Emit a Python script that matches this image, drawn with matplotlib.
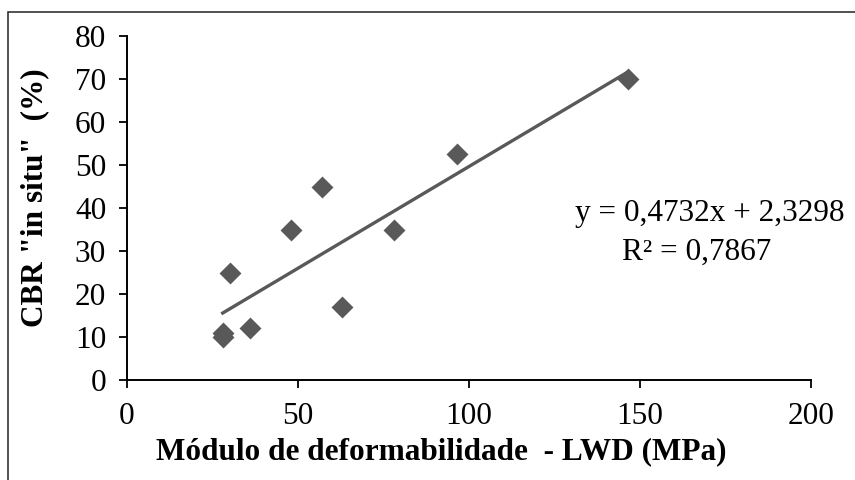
import matplotlib
matplotlib.use("Agg")
import matplotlib.pyplot as plt
from matplotlib.patches import Rectangle

# LWD modulus (MPa) vs in-situ CBR (%)
lwd_mpa = [146.5, 96.5, 57, 48, 78, 30, 36, 63, 28, 28]
cbr_pct = [70, 52.5, 45, 35, 35, 25, 12, 17, 11, 10]

# trendline coefficients as printed on the chart
slope = 0.4732
intercept = 2.3298
r2 = 0.7867

x_ticks = [0, 50, 100, 150, 200]
y_ticks = [0, 10, 20, 30, 40, 50, 60, 70, 80]

plt.rcParams["font.family"] = ["Liberation Serif", "DejaVu Serif"]

fig = plt.figure(figsize=(8.55, 4.8), dpi=100)
ax = fig.add_axes([0.1485, 0.2083, 0.80, 0.7167])

grey = "#595959"
ax.scatter(lwd_mpa, cbr_pct, marker="D", s=125, color=grey, zorder=3, linewidths=0)

x0, x1 = min(lwd_mpa), max(lwd_mpa)
ax.plot([x0, x1], [slope * x0 + intercept, slope * x1 + intercept],
        color=grey, linewidth=2.4, zorder=2)

ax.set_xlim(0, 200)
ax.set_ylim(0, 80)
ax.set_xticks(x_ticks)
ax.set_yticks(y_ticks)
ax.tick_params(axis="both", direction="out", length=6, width=1.3,
               labelsize=22.5)
ax.tick_params(axis="y", pad=9)
ax.tick_params(axis="x", pad=10)

for side in ["top", "right"]:
    ax.spines[side].set_visible(False)
for side in ["left", "bottom"]:
    ax.spines[side].set_linewidth(1.4)

ax.set_xlabel("Módulo de deformabilidade  - LWD (MPa)", fontsize=22.5,
              fontweight="bold")
ax.xaxis.set_label_coords(0.46, -0.165)
ax.set_ylabel('CBR "in situ"  (%)', fontsize=22.5, fontweight="bold")
ax.yaxis.set_label_coords(-0.113, 0.53)

eq = f"y = {slope:.4f}x + {intercept:.4f}".replace(".", ",")
r2_txt = f"R² = {r2:.4f}".replace(".", ",")
ax.text(0.852, 0.485, eq, transform=ax.transAxes, ha="center", va="center",
        fontsize=22.5)
ax.text(0.833, 0.372, r2_txt, transform=ax.transAxes, ha="center", va="center",
        fontsize=22.5)

# outer frame (left/top visible, runs off right and bottom)
fig.patches.append(Rectangle((8 / 855, -0.05), 1.1, 1 - 12 / 480 + 0.05,
                             transform=fig.transFigure, fill=False,
                             edgecolor="#333333", linewidth=1.2))

fig.savefig("out.png", dpi=100)
